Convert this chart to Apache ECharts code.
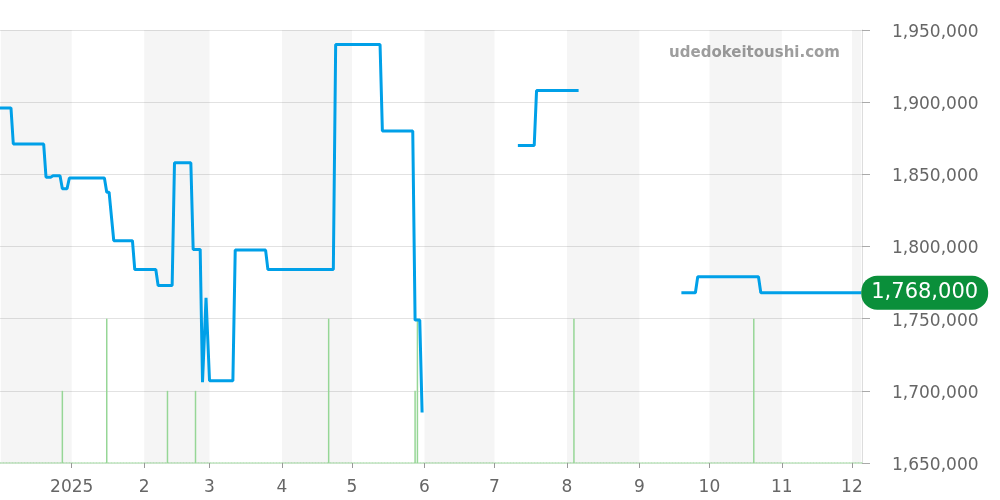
<!DOCTYPE html>
<html>
<head>
<meta charset="utf-8">
<script src="https://cdn.jsdelivr.net/npm/echarts@6/dist/echarts.min.js"></script>
<style>
html,body{margin:0;padding:0;background:#fff;}
#chart{width:1000px;height:500px;}
</style>
</head>
<body>
<div id="chart"></div>
<script>
// Price line (step-like), null = gap
const priceDates = [
  '2024-12-01','2024-12-06','2024-12-07','2024-12-20','2024-12-21','2024-12-23','2024-12-24',
  '2024-12-27','2024-12-28','2024-12-30','2024-12-31','2025-01-15','2025-01-16','2025-01-17',
  '2025-01-19','2025-01-27','2025-01-28','2025-02-06','2025-02-07','2025-02-13','2025-02-14',
  '2025-02-21','2025-02-22','2025-02-25','2025-02-26','2025-02-27 12:00','2025-03-01','2025-03-11',
  '2025-03-12','2025-03-25','2025-03-26','2025-04-23','2025-04-24','2025-05-13','2025-05-14',
  '2025-05-27','2025-05-28','2025-05-30','2025-05-31','2025-06-01',
  '2025-07-11','2025-07-18','2025-07-19','2025-08-06','2025-08-07',
  '2025-09-19','2025-09-25','2025-09-26','2025-10-22','2025-10-23','2025-12-05'
];
const priceValues = [
  1896000,1896000,1871000,1871000,1848000,1848000,1849000,
  1849000,1840000,1840000,1847500,1847500,1837600,1837600,
  1804000,1804000,1784000,1784000,1773000,1773000,1858000,
  1858000,1798000,1798000,1706000,1764500,1707000,1707000,
  1797500,1797500,1784000,1784000,1940000,1940000,1880000,
  1880000,1749000,1749000,1685000,null,
  1870000,1870000,1908000,1908000,null,
  1768000,1768000,1779000,1779000,1768000,1768000
];
// Volume bars
const volumeDates = ['2024-12-28','2025-01-16','2025-02-11','2025-02-23','2025-04-21','2025-05-28','2025-05-29','2025-08-04','2025-10-20'];
const volumeValues = [1,2,1,1,2,1,2,2,2];
// Month tick labels: January shows the year, other months their number
const monthLabels = ['2025','2','3','4','5','6','7','8','9','10','11','12'];
// Shaded month bands
const shadedBands = [
  ['2024-12-01','2025-01-01'],['2025-02-01','2025-03-01'],['2025-04-01','2025-05-01'],
  ['2025-06-01','2025-07-01'],['2025-08-01','2025-09-01'],['2025-10-01','2025-11-01'],
  ['2025-12-01','2025-12-05']
];
const lastLabel = '1,768,000';

const xMin = new Date(2024,11,1,15,0,0).getTime();
const xMax = new Date(2025,11,5).getTime();
const DAY = 86400000;

function monthFormatter(v){
  const d = new Date(v);
  if (d.getDate() !== 1 || d.getHours() !== 0) return '';
  return d.getMonth() === 0 ? monthLabels[0] : monthLabels[d.getMonth()];
}

const chart = echarts.init(document.getElementById('chart'));
const FONT = 'DejaVu Sans';
chart.setOption({
  animation:false,
  textStyle:{fontFamily:FONT},
  grid:{left:0,right:138,top:30,bottom:37,containLabel:false},
  xAxis:{
    type:'time', min:xMin, max:xMax, splitNumber:12, minInterval:28*DAY, maxInterval:31*DAY,
    axisLine:{show:true,lineStyle:{color:'#c4e6c4',width:2,type:[1,2]}},
    axisTick:{show:true,length:5,lineStyle:{color:'#999'}},
    axisLabel:{formatter:monthFormatter,color:'#666',fontSize:17,margin:16,fontFamily:FONT,hideOverlap:false},
    splitLine:{show:false}
  },
  yAxis:[{
    type:'value', position:'right', min:1650000, max:1950000, interval:50000,
    axisLine:{show:true,lineStyle:{color:'#ddd'}},
    axisTick:{show:true,length:8,lineStyle:{color:'#aaa'}},
    axisLabel:{color:'#666',fontSize:17,margin:30,fontFamily:FONT,
      formatter:v=>'{v|'+v.toLocaleString('en-US')+'}',
      rich:{v:{color:'#666',fontSize:17,fontFamily:FONT,padding:[5,0,0,0]}}},
    splitLine:{lineStyle:{color:'#e2e2e2'}}
  },{
    type:'value', min:0, max:6, show:false
  }],
  graphic:[{
    type:'text', right:160, top:46,
    style:{text:'udedokeitoushi.com', fill:'#9e9e9e', font:'bold 15px "DejaVu Sans"'}
  }],
  series:[{
    type:'bar', yAxisIndex:1, barWidth:1.5,
    itemStyle:{color:'#96d696'},
    data:volumeDates.map((d,i)=>[d,volumeValues[i]]),
    markArea:{silent:true,itemStyle:{color:'rgba(0,0,0,0.04)'},
      data:shadedBands.map(b=>[{xAxis:b[0]==='2024-12-01'?xMin:b[0]},{xAxis:b[1]==='2025-12-05'?xMax:b[1]}])},
    z:2
  },{
    type:'line', yAxisIndex:0, showSymbol:false, symbol:'none', connectNulls:false,
    lineStyle:{color:'#00a0e8',width:3},
    data:priceDates.map((d,i)=>[d,priceValues[i]]),
    endLabel:{show:true,formatter:()=>lastLabel,color:'#fff',fontSize:21,fontFamily:FONT,
      backgroundColor:'#0a8f3a',borderRadius:16,padding:[8,10,5,10],distance:0},
    z:5
  }]
});
</script>
</body>
</html>
